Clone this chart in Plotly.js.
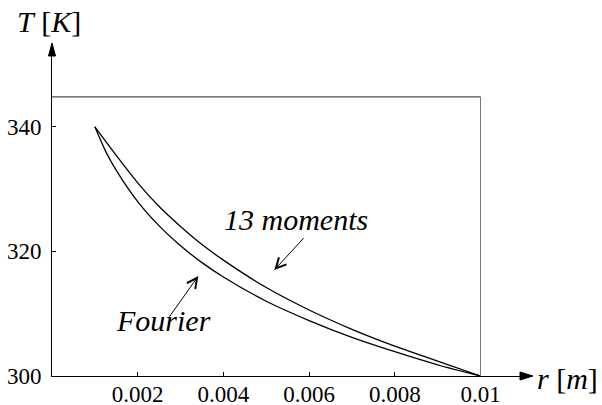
<!DOCTYPE html>
<html>
<head>
<meta charset="utf-8">
<script src="https://cdn.plot.ly/plotly-3.0.1.min.js"></script>
<style>
html,body{margin:0;padding:0;background:#fff;}
#chart{width:602px;height:405px;}
</style>
</head>
<body>
<div id="chart"></div>
<script>
// radius r [m]
const radius = [0.001, 0.00125, 0.0015, 0.002, 0.0025, 0.003, 0.0035, 0.004, 0.005, 0.006, 0.007, 0.008, 0.009, 0.01];
// Fourier temperature [K]
const fourier = [340, 336.1, 333.0, 328.0, 324.1, 320.9, 318.2, 315.9, 312.0, 308.9, 306.2, 303.9, 301.8, 300];
// 13 moments temperature [K]
const moments13 = [340, 337.7, 335.4, 331.0, 327.2, 324.0, 321.1, 318.6, 314.2, 310.6, 307.5, 304.8, 302.4, 300];

const xTickVals = [0.002, 0.004, 0.006, 0.008, 0.01];
const xTickText = ['0.002', '0.004', '0.006', '0.008', '0.01'];
const yTickVals = [300, 320, 340];
const yTickText = ['300', '320', '340'];

const FONT = 'serif';

// plot geometry (pixels)
const W = 602, H = 405;
const L = 52, R = 81, T = 56, B = 29;
const pw = W - L - R, ph = H - T - B;
const pxPerX = 42850;      // px per metre
const pxPerY = 6.23;       // px per K
const xMax = pw / pxPerX;
const yMax = 300 + ph / pxPerY;
const frameTop = 344.8;

function px(xp) { return (xp - L) / pw; }
function py(yp) { return (H - B - yp) / ph; }

const traces = [
  {x: radius, y: moments13, mode: 'lines', line: {color: '#000', width: 1.3, shape: 'spline', smoothing: 0.8}, hoverinfo: 'skip'},
  {x: radius, y: fourier, mode: 'lines', line: {color: '#000', width: 1.3, shape: 'spline', smoothing: 0.8}, hoverinfo: 'skip'}
];

const axisY = H - B; // 376
const shapes = [
  // frame
  {type: 'line', xref: 'x', yref: 'y', x0: 0, x1: 0.01, y0: frameTop, y1: frameTop, line: {color: '#222', width: 1}},
  {type: 'line', xref: 'x', yref: 'y', x0: 0.01, x1: 0.01, y0: 300, y1: frameTop, line: {color: '#777', width: 1}},
  // x axis arrowhead
  {type: 'path', xref: 'paper', yref: 'paper',
   path: `M ${px(520)} ${py(axisY - 4)} L ${px(533)} ${py(axisY)} L ${px(520)} ${py(axisY + 4)} Z`,
   fillcolor: '#000', line: {color: '#000', width: 1}},
  // y axis arrowhead
  {type: 'path', xref: 'paper', yref: 'paper',
   path: `M ${px(L - 3.5)} ${py(56)} L ${px(L)} ${py(43)} L ${px(L + 3.5)} ${py(56)} Z`,
   fillcolor: '#000', line: {color: '#000', width: 1}}
];

const annotations = [
  {xref: 'paper', yref: 'paper', x: px(49), y: py(21), text: '<i>T</i> [<i>K</i>]', showarrow: false,
   font: {family: FONT, size: 30, color: '#000'}, xanchor: 'center', yanchor: 'middle'},
  {xref: 'paper', yref: 'paper', x: px(567), y: py(378), text: '<i>r</i> [<i>m</i>]', showarrow: false,
   font: {family: FONT, size: 30, color: '#000'}, xanchor: 'center', yanchor: 'middle'},
  {xref: 'paper', yref: 'paper', x: px(296), y: py(219), text: '<i>13 moments</i>', showarrow: false,
   font: {family: FONT, size: 30, color: '#000'}, xanchor: 'center', yanchor: 'middle'},
  {xref: 'paper', yref: 'paper', x: px(163), y: py(320), text: '<i>Fourier</i>', showarrow: false,
   font: {family: FONT, size: 30, color: '#000'}, xanchor: 'center', yanchor: 'middle'},
  // pointer arrows
  {xref: 'paper', yref: 'paper', x: px(274.3), y: py(270), ax: 30.7, ay: -33.3, text: '',
   showarrow: true, arrowhead: 5, arrowsize: 2, arrowwidth: 1, arrowcolor: '#000', standoff: 0, startstandoff: 0},
  {xref: 'paper', yref: 'paper', x: px(198.3), y: py(276), ax: -30, ay: 42.3, text: '',
   showarrow: true, arrowhead: 5, arrowsize: 2, arrowwidth: 1, arrowcolor: '#000', standoff: 0, startstandoff: 0}
];

const layout = {
  width: W, height: H,
  margin: {l: L, r: R, t: T, b: B, pad: 0},
  paper_bgcolor: '#fff', plot_bgcolor: '#fff',
  font: {family: FONT, color: '#000'},
  showlegend: false,
  xaxis: {
    range: [0, xMax], showgrid: false, zeroline: false,
    showline: true, linecolor: '#000', linewidth: 1,
    ticks: 'inside', ticklen: 4, tickwidth: 1, tickcolor: '#000',
    tickmode: 'array', tickvals: xTickVals, ticktext: xTickText,
    tickfont: {family: FONT, size: 23, color: '#000'},
    ticklabelstandoff: -3, fixedrange: true
  },
  yaxis: {
    range: [300, yMax], showgrid: false, zeroline: false,
    showline: true, linecolor: '#000', linewidth: 1,
    ticks: 'inside', ticklen: 4, tickwidth: 1, tickcolor: '#000',
    tickmode: 'array', tickvals: yTickVals, ticktext: yTickText,
    tickfont: {family: FONT, size: 23, color: '#000'},
    ticklabelstandoff: 5, fixedrange: true
  },
  shapes: shapes,
  annotations: annotations
};

Plotly.newPlot('chart', traces, layout, {displayModeBar: false});
</script>
</body>
</html>
